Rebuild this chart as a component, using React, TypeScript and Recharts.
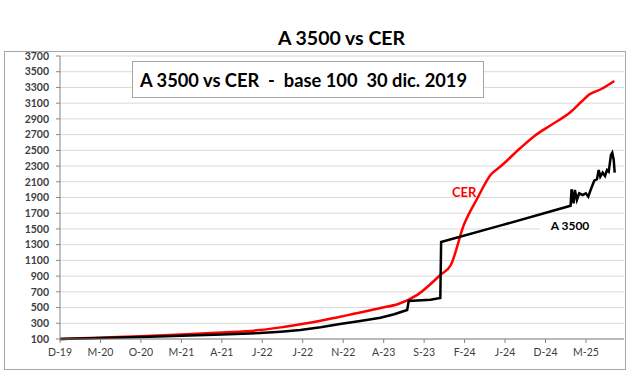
import React from 'react'
import { LineChart, Line, XAxis, YAxis, CartesianGrid } from 'recharts'

// months since 30 dic. 2019, base 100
const cerMonths = [0, 5, 10, 15, 20, 24.7, 27.3, 29.7, 32.2, 34.6, 37.1, 39.6, 41.8, 44.2, 47, 48.3, 49.9, 51.6, 53.2, 54.5, 56.9, 58.6, 60.7, 63.1, 64.4, 65.4, 66.9, 68.5]
const cerValues = [100, 117, 134, 156, 183, 214, 248, 287, 333, 384, 436, 494, 545, 665, 914, 1041, 1550, 1894, 2186, 2300, 2530, 2680, 2823, 2988, 3115, 3210, 3280, 3382]

const a3500Months = [0, 5, 10, 15, 20, 24.7, 27.3, 29.7, 32.2, 34.6, 37.1, 39.6, 41.3, 42.9, 43.1, 45.8, 47.0, 47.1, 54.5, 60.7, 63.1,
  63.22, 63.47, 63.63, 63.88, 64.16, 64.58, 64.99, 65.28, 65.61, 66.02, 66.36, 66.57, 66.77, 67.06, 67.35, 67.6, 67.81, 68.09, 68.25, 68.43, 68.55]
const a3500Values = [100, 113, 127, 142, 158, 176, 193, 214, 250, 291, 330, 371, 415, 469, 583, 600, 622, 1334, 1545, 1725, 1796,
  2005, 1826, 1996, 1868, 1953, 1932, 1953, 1911, 2005, 2114, 2132, 2250, 2165, 2216, 2174, 2250, 2229, 2441, 2470, 2377, 2216]

const xTicks = [0, 5, 10, 15, 20, 25, 30, 35, 40, 45, 50, 55, 60, 65]
const xLabels = ['D-19', 'M-20', 'O-20', 'M-21', 'A-21', 'J-22', 'J-22', 'N-22', 'A-23', 'S-23', 'F-24', 'J-24', 'D-24', 'M-25']
const yTicks = [100, 300, 500, 700, 900, 1100, 1300, 1500, 1700, 1900, 2100, 2300, 2500, 2700, 2900, 3100, 3300, 3500, 3700]

const cerData = cerMonths.map((m, i) => ({ m, v: cerValues[i] }))
const a3500Data = a3500Months.map((m, i) => ({ m, v: a3500Values[i] }))

const font = 'Lato, "Open Sans", sans-serif'

export default function App() {
  return (
    <div style={{ position: 'absolute', left: 0, top: 0, width: 639, height: 380, background: '#fff', fontFamily: font }}>
      <div style={{ position: 'absolute', left: 4, top: 51, width: 620, height: 317, border: '1px solid #a6a6a6' }} />
      <div style={{ position: 'absolute', left: 0, width: 639, top: 25, textAlign: 'center', paddingLeft: 44, boxSizing: 'border-box', fontSize: 19.5, fontWeight: 700, lineHeight: '26px', color: '#000' }}>
        A 3500 vs CER
      </div>
      <div style={{ position: 'absolute', left: 0, top: 0 }}>
        <LineChart width={639} height={380} data={cerData} margin={{ top: 56, right: 15, bottom: 0, left: 0 }}>
          <CartesianGrid horizontal vertical={false} stroke="#d9d9d9" />
          <XAxis
            type="number" dataKey="m" domain={[0, 69.7]} ticks={xTicks} allowDataOverflow
            tickFormatter={(v: number) => xLabels[xTicks.indexOf(v)]}
            height={41} stroke="#868686" tickSize={4} tickMargin={6}
            tick={{ fill: '#404040', fontSize: 10.5, fontFamily: font }}
          />
          <YAxis
            type="number" domain={[100, 3700]} ticks={yTicks} interval={0}
            width={60} stroke="#868686" tickSize={4} tickMargin={7}
            tick={{ fill: '#404040', fontSize: 10.5, fontWeight: 700, fontFamily: font }}
          />
          <Line data={cerData} dataKey="v" type="monotone" stroke="#ff0000" strokeWidth={2.5} dot={false} isAnimationActive={false} />
          <Line data={a3500Data} dataKey="v" stroke="#000000" strokeWidth={2.5} dot={false} isAnimationActive={false} />
        </LineChart>
      </div>
      <div style={{ position: 'absolute', left: 132, top: 61, width: 350, height: 35, border: '1px solid #a6a6a6', background: '#fff' }}>
        <div style={{ position: 'absolute', left: 7, top: 6, fontSize: 18.3, fontWeight: 700, lineHeight: '24px', whiteSpace: 'pre', color: '#000' }}>
          {'A 3500 vs CER  -  base 100  30 dic. 2019'}
        </div>
      </div>
      <div style={{ position: 'absolute', left: 452, top: 184, fontSize: 13, fontWeight: 700, lineHeight: '16px', color: '#ff0000' }}>CER</div>
      <div style={{ position: 'absolute', left: 540, top: 218, width: 60, textAlign: 'center', background: '#fff', fontSize: 12, fontWeight: 700, lineHeight: '16px', color: '#000' }}>A 3500</div>
    </div>
  )
}
